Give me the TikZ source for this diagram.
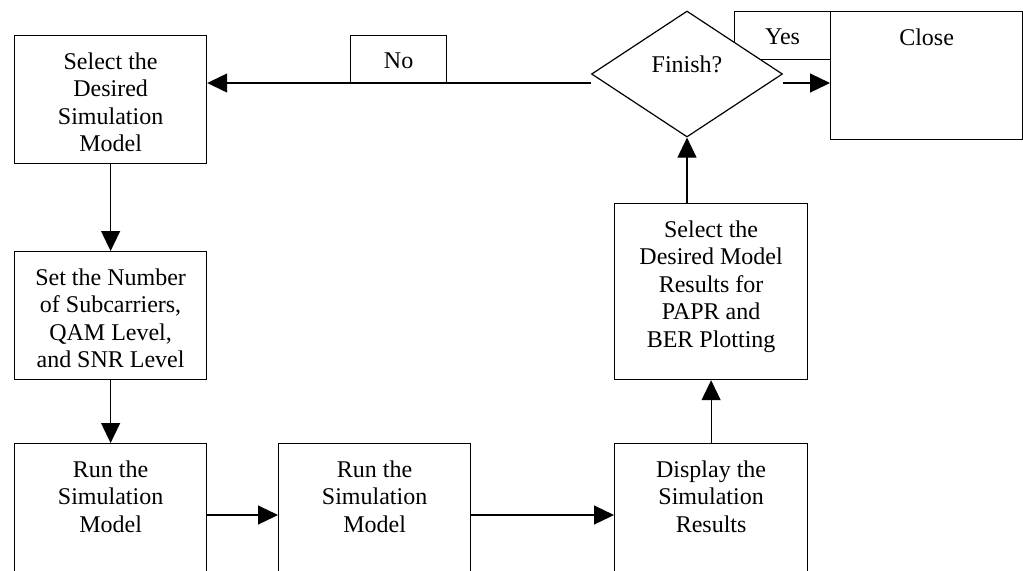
\documentclass[tikz,border=0pt]{standalone}
\usepackage{fontspec}
\setmainfont{Liberation Serif}
\usetikzlibrary{arrows.meta,shapes.geometric}
\begin{document}
\begin{tikzpicture}[x=0.5pt,y=-0.5pt,
  box/.style={draw, line width=0.6pt, rectangle, anchor=north west, inner sep=0pt,
              minimum width=96pt, minimum height=64pt},
  tag/.style={box, minimum width=48pt, minimum height=24pt},
  txt/.style={anchor=north, inner sep=0pt, align=center,
              font=\fontsize{12}{13.8}\selectfont},
  arr/.style={line width=0.6pt, -{Triangle[length=10pt,width=9.5pt]}}]
\useasboundingbox (0,0) rectangle (1023,570);
\clip (0,0) rectangle (1023,570);

% process boxes
\node[box] (b1) at (14,35) {};
\node[box] (b2) at (14,251) {};
\node[box, minimum height=80pt] (b3) at (14,443) {};
\node[box, minimum height=80pt] (b4) at (278,443) {};
\node[box, minimum width=96.5pt, minimum height=80pt] (b5) at (614,443) {};
\node[box, minimum width=96.5pt, minimum height=88pt] (b6) at (614,203) {};
\node[box] (close) at (830,11) {};

% branch labels
\node[tag] (no) at (350,35) {};
\node[tag] (yes) at (734,11) {};

% decision
\node[draw, line width=0.6pt, fill=white, diamond, inner sep=0pt,
      minimum width=95.5pt, minimum height=63pt] (fin) at (687,74) {};

% texts
\node[txt] (b1t) at ([yshift=-8.5pt]b1.north) {Select the\\Desired\\Simulation\\Model};
\node[txt] (b2t) at ([yshift=-8.5pt]b2.north) {Set the Number\\of Subcarriers,\\QAM Level,\\and SNR Level};
\node[txt] (b3t) at ([yshift=-8.5pt]b3.north) {Run the\\Simulation\\Model};
\node[txt] (b4t) at ([yshift=-8.5pt]b4.north) {Run the\\Simulation\\Model};
\node[txt] (b5t) at ([yshift=-8.5pt]b5.north) {Display the\\Simulation\\Results};
\node[txt] (b6t) at ([yshift=-8.5pt]b6.north) {Select the\\Desired Model\\Results for\\PAPR and\\BER Plotting};
\node[txt] (closet) at ([yshift=-8.5pt]close.north) {Close};
\node[txt] (not) at ([yshift=-8.5pt]no.north) {No};
\node[txt] (yest) at ([yshift=-8.5pt]yes.north) {Yes};
\node[anchor=base, inner sep=0pt, font=\fontsize{12}{13.8}\selectfont] (fint) at (687,72) {Finish?};

% connectors
\coordinate (finL) at ([yshift=-4.5pt]fin.west);
\coordinate (finR) at ([yshift=-4.5pt]fin.east);
\draw[arr] (finL) -- (finL -| b1.east);
\draw[arr] (finR) -- (finR -| close.west);
\draw[arr] (b1.south) -- (b2.north);
\draw[arr] (b2.south) -- (b3.north);
\draw[arr] ([yshift=-36pt]b3.north east) -- ([yshift=-36pt]b4.north west);
\draw[arr] ([yshift=-36pt]b4.north east) -- ([yshift=-36pt]b5.north west);
\draw[arr] (b5.north) -- (b6.south);
\draw[arr] (fin.south |- b6.north) -- (fin.south);
\end{tikzpicture}
\end{document}
